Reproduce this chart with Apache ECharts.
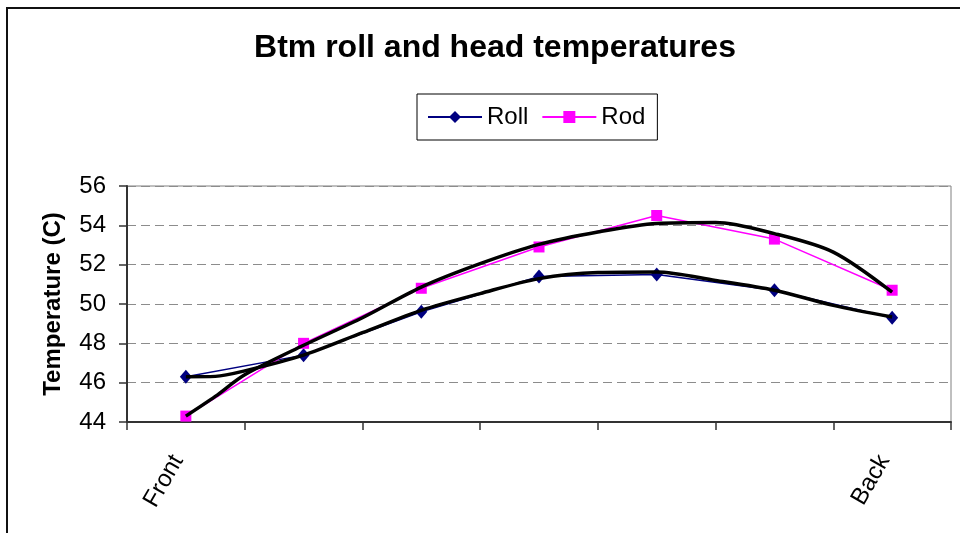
<!DOCTYPE html>
<html>
<head>
<meta charset="utf-8">
<title>Btm roll and head temperatures</title>
<script src="https://cdn.jsdelivr.net/npm/echarts@6/dist/echarts.min.js"></script>
<style>
  html, body { margin: 0; padding: 0; background: #fff; }
  #chart { width: 960px; height: 533px; }
</style>
</head>
<body>
<div id="chart"></div>
<script>
// Measurement positions along the roll, front to back
const categories = ['Front', '', '', '', '', '', 'Back'];

// Measured temperatures (C)
const rollTemps = [46.3, 47.4, 49.6, 51.4, 51.5, 50.7, 49.3];
const rodTemps  = [44.3, 48.0, 50.8, 52.9, 54.5, 53.3, 50.7];

// Polynomial trend curves, sampled every half position (position index, temperature)
const trendPos   = [0.5, 0.75, 1.0, 1.5, 2.0, 2.5, 3.0, 3.5, 4.0, 4.5, 5.0, 5.5, 6.0, 6.5];
const rollTrend  = [46.3, 46.32, 46.6, 47.4, 48.54, 49.68, 50.53, 51.29, 51.6, 51.63, 51.2, 50.7, 49.93, 49.34];
const rodTrend   = [44.3, 45.3, 46.4, 47.9, 49.3, 50.86, 52.05, 53.03, 53.66, 54.09, 54.14, 53.58, 52.64, 50.6];

// Y axis range
const yMin = 44, yMax = 56, yStep = 2;

const FONT = 'Liberation Sans, Arial, sans-serif';

const pairs = (xs, ys) => xs.map((x, i) => [x, ys[i]]);

const chart = echarts.init(document.getElementById('chart'), null, { renderer: 'canvas' });

chart.setOption({
  animation: false,
  backgroundColor: '#ffffff',
  graphic: [{
    type: 'rect',
    z: -10,
    shape: { x: 7, y: 8, width: 1000, height: 600 },
    style: { fill: 'none', stroke: '#111', lineWidth: 2 }
  }],
  title: {
    text: 'Btm roll and head temperatures',
    left: 490,
    textAlign: 'center',
    top: 27,
    textStyle: { fontFamily: FONT, fontSize: 32, fontWeight: 'bold', color: '#000' }
  },
  legend: {
    data: ['Roll', 'Rod'],
    left: 417,
    top: 94,
    padding: [11, 12, 11, 10],
    borderColor: '#000',
    borderWidth: 1,
    itemWidth: 54,
    itemHeight: 15,
    itemGap: 13,
    textStyle: { fontFamily: FONT, fontSize: 24, color: '#000' }
  },
  grid: {
    left: 127, right: 9, top: 186, bottom: 111,
    show: true, borderColor: '#808080', borderWidth: 1
  },
  xAxis: [{
    type: 'category',
    data: categories,
    boundaryGap: true,
    axisLine: { lineStyle: { color: '#333', width: 2 } },
    axisTick: { show: true, interval: 0, length: 8, lineStyle: { color: '#333', width: 1.5 } },
    axisLabel: {
      interval: 0, rotate: 60, margin: 21,
      padding: [0, 16, 0, 0],
      fontFamily: FONT, fontSize: 24, color: '#000'
    },
    splitLine: { show: false }
  }, {
    type: 'value',
    min: 0, max: categories.length,
    show: false
  }],
  yAxis: {
    type: 'value',
    min: yMin, max: yMax, interval: yStep,
    name: 'Temperature (C)',
    nameLocation: 'middle',
    nameGap: 62,
    nameTextStyle: { fontFamily: FONT, fontSize: 24, fontWeight: 'bold', color: '#000' },
    axisLine: { show: true, lineStyle: { color: '#333', width: 2 } },
    axisTick: { show: true, length: 8, lineStyle: { color: '#333', width: 1.5 } },
    axisLabel: { margin: 21, fontFamily: FONT, fontSize: 24, color: '#000' },
    splitLine: { show: true, lineStyle: { color: '#8c8c8c', width: 1, type: [9, 5] } }
  },
  series: [{
    name: 'Roll',
    type: 'line',
    data: rollTemps,
    symbol: 'diamond',
    symbolSize: [12, 14],
    showAllSymbol: true,
    lineStyle: { color: '#000080', width: 1.5 },
    itemStyle: { color: '#000080' },
    z: 2
  }, {
    name: 'Rod',
    type: 'line',
    data: rodTemps,
    symbol: 'rect',
    symbolSize: 11,
    showAllSymbol: true,
    lineStyle: { color: '#ff00ff', width: 1.5 },
    itemStyle: { color: '#ff00ff' },
    z: 2
  }, {
    name: 'Roll trend',
    type: 'line',
    xAxisIndex: 1,
    data: pairs(trendPos, rollTrend),
    symbol: 'none',
    smooth: 0.3,
    lineStyle: { color: '#000', width: 3.5 },
    z: 5
  }, {
    name: 'Rod trend',
    type: 'line',
    xAxisIndex: 1,
    data: pairs(trendPos, rodTrend),
    symbol: 'none',
    smooth: 0.3,
    lineStyle: { color: '#000', width: 3.5 },
    z: 5
  }]
});
</script>
</body>
</html>
